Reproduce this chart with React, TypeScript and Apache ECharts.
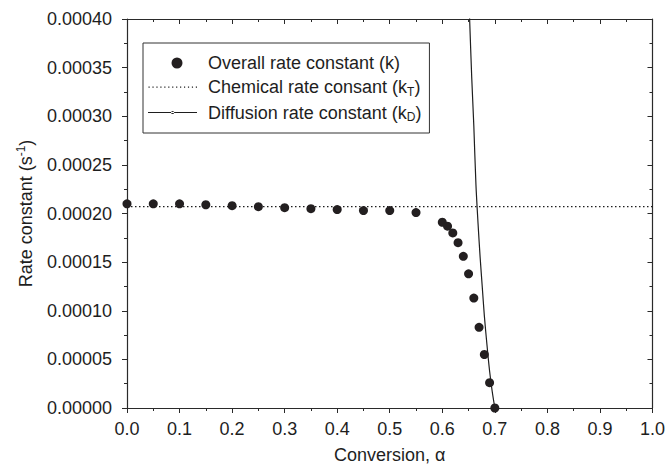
import React, { useEffect, useRef } from "react";
import * as echarts from "echarts";

const alphaK = [0, 0.05, 0.1, 0.15, 0.2, 0.25, 0.3, 0.35, 0.4, 0.45, 0.5, 0.55, 0.6, 0.61, 0.62, 0.63, 0.64, 0.65, 0.66, 0.67, 0.68, 0.69, 0.7];
const kOverall = [0.00021, 0.00021, 0.00021, 0.000209, 0.000208, 0.000207, 0.000206, 0.000205, 0.000204, 0.000203, 0.000203, 0.000201, 0.000191, 0.000187, 0.00018, 0.00017, 0.000156, 0.000138, 0.000113, 0.000083, 0.000055, 0.000026, 0.0];

const alphaT = [0, 1];
const kT = [0.000207, 0.000207];

const alphaD = [0.648, 0.652, 0.656, 0.66, 0.664, 0.668, 0.672, 0.676, 0.68, 0.685, 0.69, 0.695, 0.7];
const kD = [0.00046, 0.0004, 0.00034, 0.00029, 0.00023, 0.00019, 0.000155, 0.000125, 0.000095, 0.000065, 0.000038, 0.000017, 0.0];

const xTicks = [0, 0.1, 0.2, 0.3, 0.4, 0.5, 0.6, 0.7, 0.8, 0.9, 1.0];
const yTicks = [0, 0.00005, 0.0001, 0.00015, 0.0002, 0.00025, 0.0003, 0.00035, 0.0004];

const FONT = "'Liberation Sans', Arial, Helvetica, sans-serif";
const INK = "#1e1e1e";

// legend icon paths in a 49 x 11 frame (corner anchors keep the frame)
const IW = 49;
const IH = 11;
const frame = `M0,0 M${IW},${IH}`;
const dotPath = (() => {
  let p = "";
  for (let x = 0.5; x < IW; x += 4) p += ` M${x},5h1.2v1.2h-1.2z`;
  return `path://${frame}${p}`;
})();
const solidDotPath = `path://${frame} M0,5h${IW}v1.1h-${IW}z M23,5.5a1.6,1.6 0 1,0 3.2,0a1.6,1.6 0 1,0 -3.2,0z`;
const circlePath = `path://${frame} M23.5,5.5a5.5,5.5 0 1,0 11,0a5.5,5.5 0 1,0 -11,0z`;

export default function App() {
  const ref = useRef<HTMLDivElement>(null);
  useEffect(() => {
    if (!ref.current) return;
    const chart = echarts.init(ref.current, undefined, { renderer: "svg" });
    const axisCommon = {
      axisLine: { show: true, onZero: false, lineStyle: { color: "#2a2a2a", width: 1.2 } },
      splitLine: { show: false },
    };
    const legendNames: Record<string, string> = {
      "Overall rate constant (k)": "{g|}{n|Overall rate constant (k)}",
      "Chemical rate consant (kT)": "{g|}{n|Chemical rate consant (k}{s|T}{n|)}",
      "Diffusion rate constant (kD)": "{g|}{n|Diffusion rate constant (k}{s|D}{n|)}",
    };
    chart.setOption({
      animation: false,
      backgroundColor: "#fff",
      textStyle: { fontFamily: FONT },
      grid: { left: 127, right: 15, top: 19, bottom: 61 },
      legend: {
        orient: "vertical",
        left: 143,
        top: 43,
        itemGap: 6,
        itemWidth: IW,
        itemHeight: IH,
        symbolKeepAspect: true,
        padding: [11, 8, 10, 5],
        borderColor: "#333",
        borderWidth: 1,
        textStyle: {
          fontFamily: FONT,
          fontSize: 18,
          color: INK,
          rich: {
            g: { width: 6 },
            n: { fontFamily: FONT, fontSize: 18, color: INK },
            s: { fontFamily: FONT, fontSize: 12, color: INK, padding: [9, 0, 0, 0] },
          },
        },
        formatter: (name: string) => legendNames[name] || name,
        data: [
          { name: "Overall rate constant (k)", icon: circlePath, itemStyle: { color: "#231f20" } },
          { name: "Chemical rate consant (kT)", icon: dotPath, itemStyle: { color: INK } },
          { name: "Diffusion rate constant (kD)", icon: solidDotPath, itemStyle: { color: INK } },
        ],
      },
      xAxis: [
        {
          type: "value",
          min: 0,
          max: 1,
          interval: 0.1,
          position: "bottom",
          ...axisCommon,
          axisTick: { show: true, inside: false, length: 5, lineStyle: { color: "#2a2a2a" } },
          minorTick: { show: true, splitNumber: 2, length: 3, lineStyle: { color: "#2a2a2a" } },
          axisLabel: {
            fontSize: 18,
            color: INK,
            fontFamily: FONT,
            margin: 12,
            formatter: (v: number) => (xTicks.some((t) => Math.abs(t - v) < 1e-9) ? v.toFixed(1) : ""),
          },
          name: "Conversion, \u03b1",
          nameLocation: "middle",
          nameGap: 38,
          nameTextStyle: { fontSize: 18, color: INK, fontFamily: FONT },
        },
        {
          type: "value",
          min: 0,
          max: 1,
          interval: 0.1,
          position: "top",
          ...axisCommon,
          axisTick: { show: true, inside: true, length: 5, lineStyle: { color: "#2a2a2a" } },
          minorTick: { show: true, splitNumber: 2, length: 3, lineStyle: { color: "#2a2a2a" } },
          axisLabel: { show: false },
        },
      ],
      yAxis: [
        {
          type: "value",
          min: 0,
          max: 0.0004,
          interval: 0.00005,
          position: "left",
          ...axisCommon,
          axisTick: { show: true, inside: false, length: 5, lineStyle: { color: "#2a2a2a" } },
          minorTick: { show: true, splitNumber: 2, length: 3, lineStyle: { color: "#2a2a2a" } },
          axisLabel: {
            fontSize: 18,
            color: INK,
            fontFamily: FONT,
            margin: 15,
            formatter: (v: number) => (yTicks.some((t) => Math.abs(t - v) < 1e-12) ? v.toFixed(5) : ""),
          },
          name: "{n|Rate constant (s}{p|-1}{n|)}",
          nameLocation: "middle",
          nameRotate: 90,
          nameGap: 91,
          nameTextStyle: {
            fontFamily: FONT,
            fontSize: 18,
            color: INK,
            rich: {
              n: { fontFamily: FONT, fontSize: 18, color: INK },
              p: { fontFamily: FONT, fontSize: 12, color: INK, padding: [0, 0, 9, 0] },
            },
          },
        },
        {
          type: "value",
          min: 0,
          max: 0.0004,
          interval: 0.00005,
          position: "right",
          ...axisCommon,
          axisTick: { show: true, inside: true, length: 5, lineStyle: { color: "#2a2a2a" } },
          minorTick: { show: true, splitNumber: 2, length: 3, lineStyle: { color: "#2a2a2a" } },
          axisLabel: { show: false },
        },
      ],
      series: [
        {
          name: "Chemical rate consant (kT)",
          type: "line",
          xAxisIndex: 0,
          yAxisIndex: 0,
          data: alphaT.map((a, i) => [a, kT[i]]),
          symbol: "none",
          lineStyle: { color: INK, width: 1.2, type: [1.5, 2.5] },
          itemStyle: { color: INK },
          z: 2,
        },
        {
          name: "Diffusion rate constant (kD)",
          type: "line",
          xAxisIndex: 0,
          yAxisIndex: 0,
          data: alphaD.map((a, i) => [a, kD[i]]),
          symbol: "none",
          clip: true,
          smooth: 0.3,
          lineStyle: { color: INK, width: 1.2 },
          itemStyle: { color: INK },
          z: 3,
        },
        {
          name: "Overall rate constant (k)",
          type: "scatter",
          xAxisIndex: 0,
          yAxisIndex: 0,
          data: alphaK.map((a, i) => [a, kOverall[i]]),
          symbol: "circle",
          symbolSize: 9,
          itemStyle: { color: "#231f20", opacity: 1 },
          z: 4,
        },
      ],
    });
    return () => chart.dispose();
  }, []);
  return <div ref={ref} style={{ width: 668, height: 469, position: "absolute", left: 0, top: 0 }} />;
}
